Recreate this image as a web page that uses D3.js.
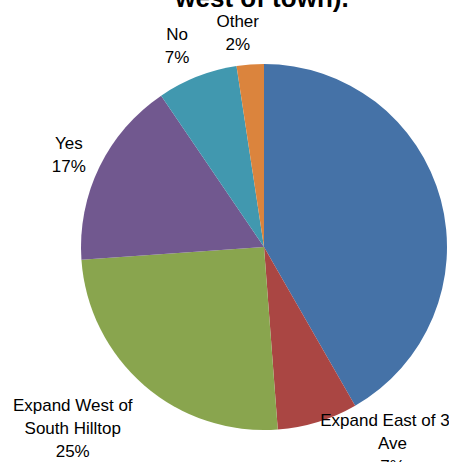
<!DOCTYPE html>
<html>
<head>
<meta charset="utf-8">
<script src="https://cdn.jsdelivr.net/npm/d3@7"></script>
<style>
  html, body { margin: 0; padding: 0; background: #fff; overflow: hidden; }
  svg { display: block; }
</style>
</head>
<body>
<script>
// ---- data ----
const categories = ["Expand both", "Expand East of 3rd Ave", "Expand West of South Hilltop", "Yes", "No", "Other"];
const values = [41.7, 7.1, 25.1, 16.6, 7.1, 2.4];
const percentLabels = ["42%", "7%", "25%", "17%", "7%", "2%"];
const labelLines = [["Expand both"], ["Expand East of 3rd", "Ave"], ["Expand West of", "South Hilltop"], ["Yes"], ["No"], ["Other"]];
const titleLines = ["west of town)."];

// ---- layout / style ----
const W = 449, H = 462;
const cx = 264, cy = 247, R = 183;
const colors = ["#4572A7", "#AA4643", "#89A54E", "#71588F", "#4198AF", "#DB843D"];
const labelNudge = [[90, 0], [65, -10], [-50, 18], [-1, 2], [-8, 0], [-10, 1]];
const lineH = 23;

const svg = d3.select("body").append("svg").attr("width", W).attr("height", H);

const data = categories.map((c, i) => ({ cat: c, value: values[i], i }));
const pie = d3.pie().sort(null).value(d => d.value);
const arcs = pie(data);
const arc = d3.arc().innerRadius(0).outerRadius(R);
const labelArc = d3.arc().innerRadius(R * 1.18).outerRadius(R * 1.18);

const g = svg.append("g").attr("transform", `translate(${cx},${cy})`);
g.selectAll("path").data(arcs).join("path")
  .attr("d", arc)
  .attr("fill", d => colors[d.data.i]);

const labels = g.selectAll("g.lbl").data(arcs).join("g").attr("class", "lbl")
  .attr("transform", d => {
    const [x, y] = labelArc.centroid(d);
    const n = labelNudge[d.data.i];
    return `translate(${x + n[0]},${y + n[1]})`;
  });
labels.each(function(d) {
  const lines = labelLines[d.data.i].concat([percentLabels[d.data.i]]);
  const t = d3.select(this).append("text")
    .attr("text-anchor", "middle")
    .attr("font-family", "'Liberation Sans', Arial, sans-serif")
    .attr("font-size", 17)
    .attr("fill", "#000");
  lines.forEach((ln, k) => {
    t.append("tspan").attr("x", 0)
      .attr("y", (k - (lines.length - 1) / 2) * lineH)
      .attr("dy", "0.35em")
      .text(ln);
  });
});

svg.append("text")
  .attr("x", 262).attr("y", 7)
  .attr("text-anchor", "middle")
  .attr("font-family", "'Liberation Sans', Arial, sans-serif")
  .attr("font-size", 26).attr("font-weight", "bold")
  .text(titleLines[titleLines.length - 1]);
</script>
</body>
</html>
